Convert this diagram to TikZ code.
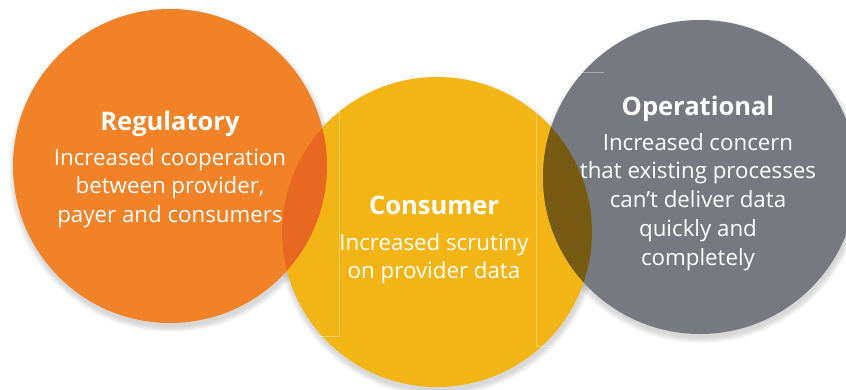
\documentclass[tikz,border=0pt]{standalone}
\usepackage{fontspec}
\setmainfont{Open Sans}
\usetikzlibrary{positioning}

\definecolor{regorange}{HTML}{F28228}
\definecolor{conyellow}{HTML}{F3B515}
\definecolor{opgrey}{HTML}{767A80}
\definecolor{lensleft}{HTML}{E86821}
\definecolor{lensright}{HTML}{785B13}

\begin{document}
\begin{tikzpicture}[x=1pt,y=-1pt,
    head/.style={text=white,font=\bfseries\fontsize{25.5}{30}\selectfont,inner sep=0pt,anchor=base},
    body/.style={text=white,font=\fontsize{22.3}{28.8}\selectfont,align=center,inner sep=0pt,anchor=north},
    frame/.style={white,opacity=0.35,line width=0.5pt}]
    \useasboundingbox (0,0) rectangle (846,389);
    \clip (0,0) rectangle (846,389);

    % soft shadows under the three discs
    \foreach \cx/\cy/\r in {170/166/157, 437/232/155, 700/177/157}{
        \foreach \k in {0,...,6}
            \fill[black,opacity=0.025] (\cx+1,\cy+4) circle (\r+\k*0.9);
    }

    % discs
    \fill[regorange] (170,166) circle (157);
    \fill[conyellow] (437,232) circle (155);
    \fill[opgrey] (700,177) circle (157);

    % overlaps
    \begin{scope}
        \clip (170,166) circle (157);
        \fill[lensleft] (437,232) circle (155);
    \end{scope}
    \begin{scope}
        \clip (700,177) circle (157);
        \fill[lensright] (437,232) circle (155);
    \end{scope}

    % faint text frame edges
    \draw[frame] (318,336)--(339,336)--(339,112);
    \draw[frame] (536,113)--(536,346)--(556,346);
    \draw[frame] (580,72)--(604,72);

    % labels
    \node[head] (reg) at (170,130) {Regulatory};
    \node[body] (regtxt) at (170,148) {Increased cooperation\\between provider,\\payer and consumers};

    \node[head] (con) at (434,214) {Consumer};
    \node[body] (contxt) at (434,233) {Increased scrutiny\\on provider data};

    \node[head] (op) at (698,115) {Operational};
    \node[body] (optxt) at (698,133) {Increased concern\\that existing processes\\can’t deliver data\\quickly and\\completely};
\end{tikzpicture}
\end{document}
